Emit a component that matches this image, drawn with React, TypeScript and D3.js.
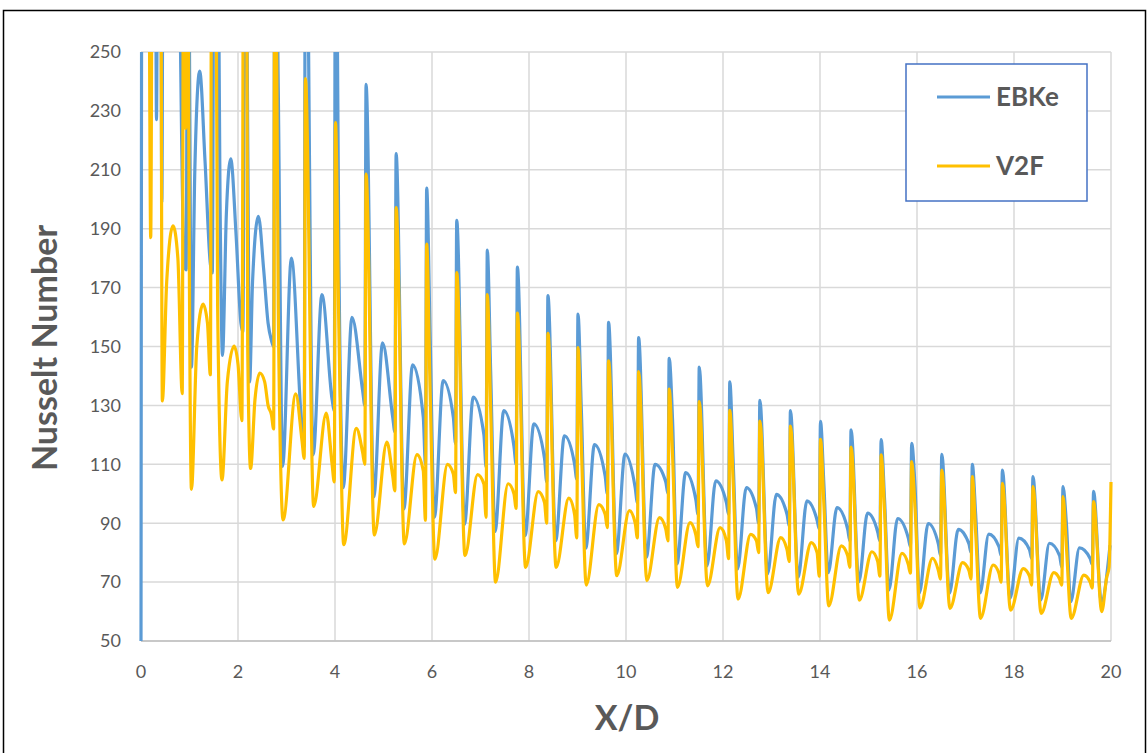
import React from 'react';
import * as d3 from 'd3';

const W = 1148;
const H = 753;
const PLOT = { left: 141, right: 1111, top: 52, bottom: 641 };

const X_TICKS = [0, 2, 4, 6, 8, 10, 12, 14, 16, 18, 20];
const Y_TICKS = [50, 70, 90, 110, 130, 150, 170, 190, 210, 230, 250];
const SERIES_NAMES = ['EBKe', 'V2F'];
const COLORS = ['#5B9BD5', '#FFC000'];

// Irregular entrance region (X/D < 2.7), read point by point
const EBKE_EARLY: [number, number][] = [
  [0, 50], [0.03, 420], [0.29, 330], [0.32, 227], [0.35, 330], [0.4, 330], [0.43, 199], [0.46, 330],
  [0.76, 300], [0.89, 178], [0.93, 176], [0.97, 330], [1.0, 250], [1.04, 143], [1.11, 210], [1.21, 243.5],
  [1.32, 213], [1.43, 178], [1.47, 175], [1.51, 330], [1.57, 330], [1.63, 199], [1.68, 147], [1.76, 195],
  [1.85, 213.7], [1.96, 188], [2.06, 158], [2.1, 155], [2.15, 330], [2.2, 223], [2.24, 138], [2.3, 172],
  [2.42, 194.2], [2.53, 176], [2.62, 158],
];
const V2F_EARLY: [number, number][] = [
  [0, 330], [0.15, 330], [0.2, 187], [0.24, 330], [0.4, 330], [0.44, 131.5], [0.53, 172], [0.66, 191],
  [0.76, 180], [0.85, 134], [0.88, 330], [0.92, 224], [0.96, 330], [0.99, 200], [1.04, 101.5], [1.15, 150],
  [1.28, 164.4], [1.37, 158], [1.43, 140.4], [1.46, 330], [1.53, 330], [1.58, 163.7], [1.67, 104.7], [1.78, 138],
  [1.92, 150.1], [2.0, 144], [2.08, 124.8], [2.12, 330], [2.17, 330], [2.2, 150], [2.26, 108.6], [2.35, 132],
  [2.45, 141], [2.55, 138], [2.62, 130],
];

// Regular periodic region: X/D of each spike
const SPIKE_X = [2.76, 3.39, 4.01, 4.64, 5.26, 5.89, 6.51, 7.14, 7.76, 8.39, 9.01, 9.64, 10.26, 10.89,
  11.51, 12.14, 12.76, 13.39, 14.01, 14.64, 15.26, 15.89, 16.51, 17.14, 17.76, 18.39, 19.01, 19.64];

// EBKe per period values
const EBKE_APPROACH = [152, 122, 132, 135, 126, 126, 126, 120, 116, 112, 110, 106, 102, 104, 98, 97, 95, 93, 91, 88, 87, 85, 83, 83, 82, 81, 79, 78];
const EBKE_DIP = [150, 116, 128, 130, 121, 110, 117, 109, 110, 104, 105, 100, 97, 100, 93, 93, 90, 89, 88, 84, 84, 82, 79, 80, 79, 78, 75, 76];
const EBKE_PEAK = [330, 330, 330, 239, 215.5, 203.8, 192.8, 182.7, 177, 167.3, 161, 158.2, 153, 146, 143, 138, 131.7, 128.2, 124.6, 121.7, 118.4, 117.1, 113.4, 110, 108, 105.8, 102.4, 100.8];
const EBKE_SHOULDER = [238, null, 179.3, null, null, 155, null, 141.3, null, null, 128.2, null, null, 125, null, 110.8, null, null, 103.3, null, 98.5, 102.4, null, 92.8, null, null, 90, null];
const EBKE_MIN = [109.3, 113.2, 102.1, 98.9, 94.8, 92, 89.6, 87.2, 85.8, 84, 81.5, 79.6, 78.4, 76.2, 75.5, 74.4, 72.8, 71.6, 73.2, 70.1, 67.3, 66.3, 66.2, 66.3, 64.5, 63.9, 63.4, 63.4];
const EBKE_HUMP = [180, 167.6, 159.9, 151.2, 143.8, 138.4, 132.8, 128.2, 123.7, 119.7, 116.7, 113.5, 110, 107.2, 104.4, 102.1, 99.8, 97.6, 95.3, 93.4, 91.6, 89.9, 87.9, 86.3, 84.9, 83.2, 81.6, 82.5];
const EBKE_TAIL: [number, number][] = [];

// V2F per period values
const V2F_APPROACH = [126.8, 118, 110, 114, 106, 107.8, 106.7, 103.3, 100, 97, 93, 93, 90, 88, 86, 84, 84, 81, 80, 79, 77, 76, 74, 74, 73, 72, 71, 70];
const V2F_DIP = [122, 112, 104, 110, 101, 91, 100.4, 92, 95, 90, 85, 88.5, 85, 84, 82, 78, 80, 77, 72, 75, 72, 73, 71, 71, 70, 69, 69, 68];
const V2F_PEAK = [330, 241, 226, 208.5, 197.2, 184.8, 175.1, 167.6, 161.3, 154.5, 149.6, 145.1, 141.5, 135.5, 131.3, 128.3, 124.7, 123, 118.5, 115.8, 113.2, 110.9, 108, 105.8, 103.5, 102.4, 99, 97.3];
const V2F_SHOULDER = [163, null, 156, null, null, 136, null, 128.5, null, null, 116, null, null, 113, null, 104, null, null, 96.5, null, 94.5, 95, null, 86.6, null, null, 82, null];
const V2F_MIN = [91.1, 95.7, 82.7, 86, 83, 77.8, 79, 70, 75, 75, 69, 72.2, 70.5, 68.2, 68.7, 64.2, 66.4, 65.9, 61.9, 63.9, 57.1, 61.2, 61.1, 57.7, 60.5, 59.4, 57.7, 60];
const V2F_HUMP = [133.9, 127.4, 122.2, 117.5, 113.3, 110, 106.5, 103.4, 100.7, 98.5, 96.3, 94.3, 91.9, 90.2, 88.5, 86.2, 85.1, 83.4, 82.3, 80.3, 79.8, 78.1, 76.6, 75.8, 74.6, 73.2, 72.4];
const V2F_TAIL: [number, number][] = [[19.91, 71.5], [19.96, 75], [20, 104]];

// shape of one period: where each feature sits relative to the spike (X/D)
const EBKE_SHAPE = { approach: -0.07, dip: -0.025, shoulder: 0.07, min: 0.16, hump: 0.34 };
const V2F_SHAPE = { approach: -0.07, dip: -0.025, shoulder: 0.07, min: 0.17, hump: 0.43 };

function buildSeries(
  early: [number, number][], approach: number[], dip: number[], peak: number[],
  shoulder: (number | null)[], min: number[], hump: number[], tail: [number, number][],
  shape: typeof EBKE_SHAPE,
): [number, number][] {
  const pts: [number, number][] = [...early];
  SPIKE_X.forEach((s, i) => {
    pts.push([s + shape.approach, approach[i]]);
    pts.push([s + shape.dip, dip[i]]);
    pts.push([s, peak[i]]);
    if (shoulder[i] != null) pts.push([s + shape.shoulder, shoulder[i] as number]);
    pts.push([s + shape.min, min[i]]);
    if (i < hump.length) pts.push([Math.min(20, s + shape.hump), hump[i]]);
  });
  return pts.concat(tail);
}

const EBKE = buildSeries(EBKE_EARLY, EBKE_APPROACH, EBKE_DIP, EBKE_PEAK, EBKE_SHOULDER, EBKE_MIN, EBKE_HUMP, EBKE_TAIL, EBKE_SHAPE);
const V2F = buildSeries(V2F_EARLY, V2F_APPROACH, V2F_DIP, V2F_PEAK, V2F_SHOULDER, V2F_MIN, V2F_HUMP, V2F_TAIL, V2F_SHAPE);

const FONT = 'Lato, "Open Sans", sans-serif';
const TEXT = '#595959';

export default function App() {
  const x = d3.scaleLinear().domain([0, 20]).range([PLOT.left, PLOT.right]);
  const y = d3.scaleLinear().domain([50, 250]).range([PLOT.bottom, PLOT.top]);
  const line = d3.line<[number, number]>()
    .x((d) => x(d[0]))
    .y((d) => y(d[1]))
    .curve(d3.curveMonotoneX);
  const series = [EBKE, V2F];

  return (
    <svg width={W} height={H} style={{ position: 'absolute', left: 0, top: 0, background: '#fff' }}>
      <defs>
        <clipPath id="plotClip">
          <rect x={PLOT.left - 2} y={PLOT.top} width={PLOT.right - PLOT.left + 4} height={PLOT.bottom - PLOT.top} />
        </clipPath>
      </defs>
      <rect x={0} y={0} width={W} height={H} fill="#fff" />
      <rect x={3.5} y={10.5} width={1142} height={780} fill="none" stroke="#000" strokeWidth={1.5} />
      {Y_TICKS.map((t) => (
        <line key={'gy' + t} x1={PLOT.left} x2={PLOT.right} y1={y(t)} y2={y(t)} stroke="#d9d9d9" strokeWidth={1.5} />
      ))}
      {X_TICKS.map((t) => (
        <line key={'gx' + t} x1={x(t)} x2={x(t)} y1={PLOT.top} y2={PLOT.bottom} stroke="#d9d9d9" strokeWidth={1.5} />
      ))}
      <line x1={PLOT.left} x2={PLOT.right} y1={PLOT.bottom} y2={PLOT.bottom} stroke="#bfbfbf" strokeWidth={1.5} />
      {Y_TICKS.map((t) => (
        <text key={'ly' + t} x={121} y={y(t)} dy="0.35em" textAnchor="end" fontFamily={FONT} fontSize={18} fill={TEXT}>{t}</text>
      ))}
      {X_TICKS.map((t) => (
        <text key={'lx' + t} x={x(t)} y={678} textAnchor="middle" fontFamily={FONT} fontSize={18} fill={TEXT}>{t}</text>
      ))}
      <g clipPath="url(#plotClip)">
        {series.map((s, i) => (
          <path key={i} d={line(s) || ''} fill="none" stroke={COLORS[i]} strokeWidth={3.2} strokeLinejoin="round" />
        ))}
      </g>
      <text x={627} y={730} textAnchor="middle" fontFamily={FONT} fontWeight="bold" fontSize={34} fill={TEXT}>X/D</text>
      <text transform="translate(57,348) rotate(-90)" textAnchor="middle" fontFamily={FONT} fontWeight="bold" fontSize={34} fill={TEXT}>Nusselt Number</text>
      <rect x={906} y={64} width={181} height={137} fill="#fff" stroke="#4472C4" strokeWidth={1.5} />
      {SERIES_NAMES.map((n, i) => (
        <g key={n}>
          <line x1={937} x2={990} y1={97 + i * 69} y2={97 + i * 69} stroke={COLORS[i]} strokeWidth={3} />
          <text x={996} y={97 + i * 69} dy="0.35em" fontFamily={FONT} fontWeight="bold" fontSize={26} fill={TEXT}>{n}</text>
        </g>
      ))}
    </svg>
  );
}
